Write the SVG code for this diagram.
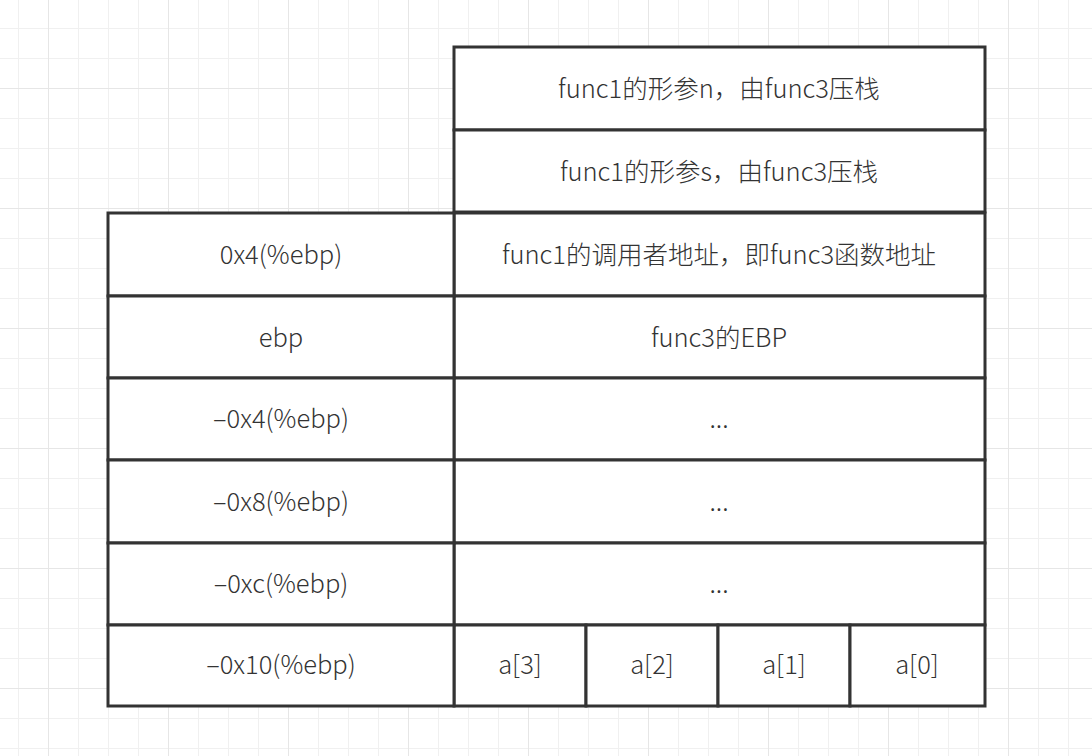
<svg xmlns="http://www.w3.org/2000/svg" width="1092" height="756" viewBox="0 0 1092 756">
<style>
.c{fill:#fff;stroke:#333;stroke-width:3}
.t{font-family:"Noto Sans CJK SC","Liberation Sans",sans-serif;font-size:25.5px;font-weight:300;fill:#333;text-anchor:middle;dominant-baseline:central}
</style>
<defs>
<pattern id="minor" patternUnits="userSpaceOnUse" x="18" y="28" width="30" height="30">
<path d="M0 0H30M0 0V30" fill="none" stroke="#f0f0f0" stroke-width="2"/>
</pattern>
<pattern id="major" patternUnits="userSpaceOnUse" x="48" y="88" width="120" height="120">
<path d="M0 0H120M0 0V120" fill="none" stroke="#e6e6e6" stroke-width="2"/>
</pattern>
</defs>
<rect width="1092" height="756" fill="#fff"/>
<rect width="1092" height="756" fill="url(#minor)"/>
<rect width="1092" height="756" fill="url(#major)"/>
<g id="r1"><rect class="c" x="454" y="47" width="531" height="83"/><text class="t" x="719" y="86">func1的形参n，由func3压栈</text></g>
<g id="r2"><rect class="c" x="454" y="130" width="531" height="82"/><text class="t" x="719" y="169">func1的形参s，由func3压栈</text></g>
<g id="r3"><rect class="c" x="454" y="213" width="531" height="83"/><text class="t" x="719" y="252">func1的调用者地址，即func3函数地址</text></g>
<g id="r4"><rect class="c" x="454" y="296" width="531" height="82"/><text class="t" x="719" y="335">func3的EBP</text></g>
<g id="r5"><rect class="c" x="454" y="378" width="531" height="82"/><text class="t" x="719" y="416">...</text></g>
<g id="r6"><rect class="c" x="454" y="460" width="531" height="83"/><text class="t" x="719" y="499">...</text></g>
<g id="r7"><rect class="c" x="454" y="543" width="531" height="82"/><text class="t" x="719" y="581">...</text></g>
<g id="a3"><rect class="c" x="454" y="625" width="132" height="81"/><text class="t" x="520" y="662">a[3]</text></g>
<g id="a2"><rect class="c" x="586" y="625" width="132" height="81"/><text class="t" x="652" y="662">a[2]</text></g>
<g id="a1"><rect class="c" x="718" y="625" width="132" height="81"/><text class="t" x="784" y="662">a[1]</text></g>
<g id="a0"><rect class="c" x="850" y="625" width="135" height="81"/><text class="t" x="917" y="662">a[0]</text></g>
<g id="l1"><rect class="c" x="108" y="213" width="346" height="83"/><text class="t" x="281" y="252">0x4(%ebp)</text></g>
<g id="l2"><rect class="c" x="108" y="296" width="346" height="82"/><text class="t" x="281" y="335">ebp</text></g>
<g id="l3"><rect class="c" x="108" y="378" width="346" height="82"/><text class="t" x="281" y="416">–0x4(%ebp)</text></g>
<g id="l4"><rect class="c" x="108" y="460" width="346" height="83"/><text class="t" x="281" y="499">–0x8(%ebp)</text></g>
<g id="l5"><rect class="c" x="108" y="543" width="346" height="82"/><text class="t" x="281" y="581">–0xc(%ebp)</text></g>
<g id="l6"><rect class="c" x="108" y="625" width="346" height="81"/><text class="t" x="281" y="662">–0x10(%ebp)</text></g>
<g id="connectors"/>
</svg>
